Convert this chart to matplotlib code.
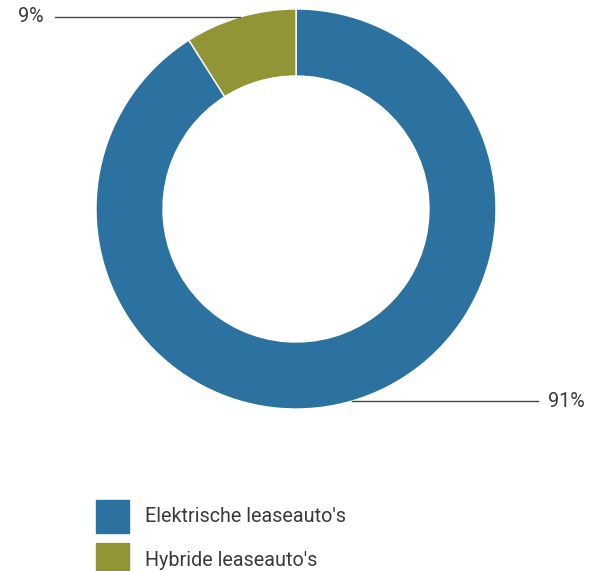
import matplotlib.pyplot as plt
import numpy as np
from matplotlib.patches import Rectangle

plt.rcParams['font.family'] = ['Roboto', 'DejaVu Sans']

# data
labels = ["Elektrische leaseauto's", "Hybride leaseauto's"]
values = [91, 9]
colors = ['#2c72a0', '#929535']
text_color = '#3a3a3a'

W, H = 589, 571
fig = plt.figure(figsize=(W / 100, H / 100), dpi=100)

# donut axes: centre (296, 209) px, outer radius 200 px
cx, cy, r = 296, 209, 200
ax = fig.add_axes([(cx - r) / W, (H - cy - r) / H, 2 * r / W, 2 * r / H])

wedges, _ = ax.pie(values, colors=colors, startangle=90, counterclock=False,
                   radius=1, wedgeprops=dict(width=0.335, edgecolor='white', linewidth=1))
ax.set_xlim(-1, 1)
ax.set_ylim(-1, 1)
ax.set_aspect('equal')
ax.axis('off')

# label lines from the outer edge midpoint to the side
for w, v in zip(wedges, values):
    mid = np.deg2rad((w.theta1 + w.theta2) / 2)
    x0, y0 = np.cos(mid), np.sin(mid)
    if x0 < 0:
        x1 = (55 - cx) / r
        ax.plot([x0, x1], [y0, y0], color='#444444', lw=1, clip_on=False)
        ax.text(x1 - 11 / r, y0, f"{v}%", ha='right', va='center',
                fontsize=14.2, color=text_color)
    else:
        x1 = (538 - cx) / r
        ax.plot([x0, x1], [y0, y0], color='#444444', lw=1, clip_on=False)
        ax.text(x1 + 10 / r, y0, f"{v}%", ha='left', va='center',
                fontsize=14.2, color=text_color)

# legend
for i, (lab, col) in enumerate(zip(labels, colors)):
    top = 500 + i * 43
    fig.add_artist(Rectangle((96 / W, (H - top - 33) / H), 33 / W, 33 / H,
                             transform=fig.transFigure, color=col))
    fig.text(145 / W, (H - top - 17) / H, lab, ha='left', va='center',
             fontsize=14.2, color=text_color)

fig.savefig('out.png', dpi=100)
